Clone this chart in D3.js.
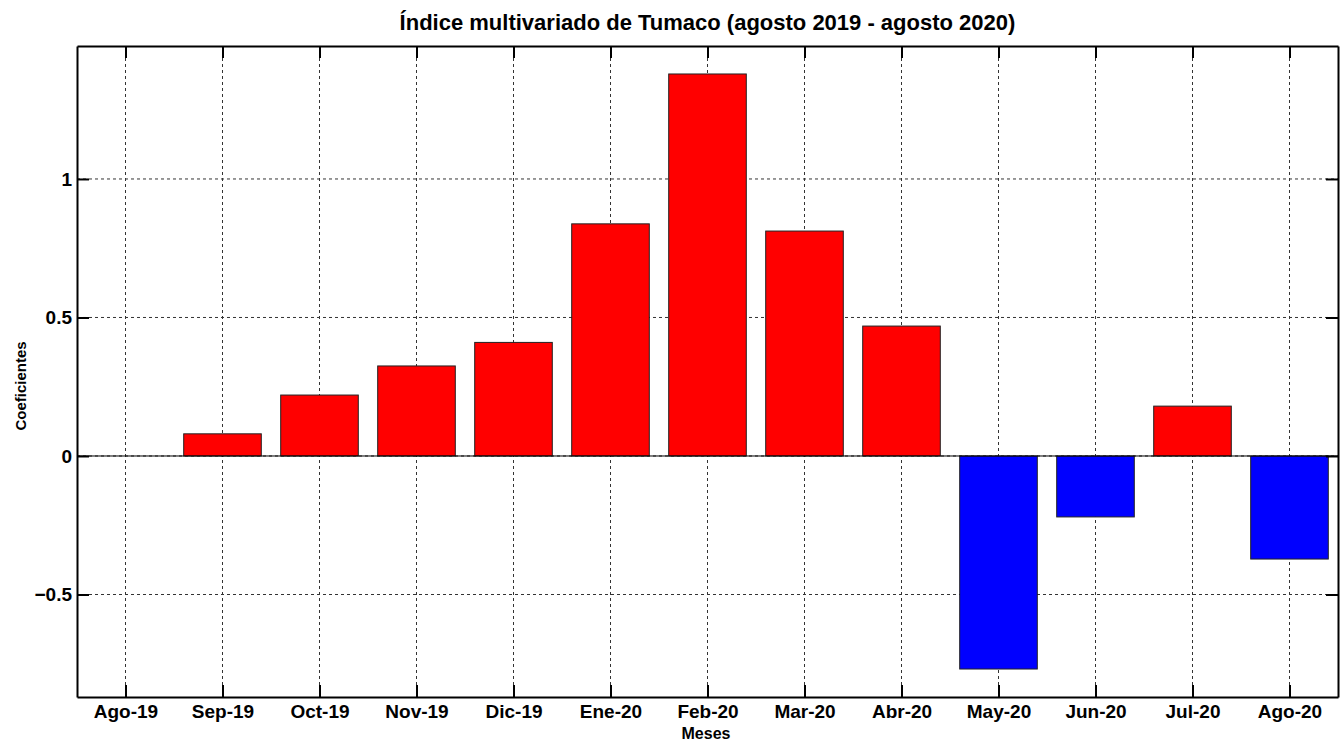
<!DOCTYPE html>
<html lang='es'>
	<head>
		<meta charset='utf-8'>
		<title>Indice multivariado de Tumaco</title>
		<script type='text/javascript' src='https://d3js.org/d3.v7.min.js'></script>
		<style type='text/css'>
			body { margin: 0; background: white; }
			text { font-family: 'Liberation Sans', Arial, sans-serif; font-weight: bold; fill: black; }
			.grid line { stroke: #333; stroke-dasharray: 3,3; stroke-width: 1; }
		</style>
	</head>
	<body>
		<script type='text/javascript'>
			// data
			var months = ['Ago-19', 'Sep-19', 'Oct-19', 'Nov-19', 'Dic-19', 'Ene-20', 'Feb-20',
				'Mar-20', 'Abr-20', 'May-20', 'Jun-20', 'Jul-20', 'Ago-20'];
			var coefs = [0, 0.08, 0.22, 0.325, 0.41, 0.838, 1.379, 0.812, 0.469, -0.769, -0.22, 0.18, -0.372];
			var yTicks = [-0.5, 0, 0.5, 1];

			var w = 1343;
			var h = 743;
			var padL = 77, padR = 1338, padT = 46, padB = 697;

			var svg = d3.select('body')
				.append('svg')
				.attr('width', w)
				.attr('height', h);

			var xScale = d3.scaleLinear()
				.domain([0.5, months.length + 0.5])
				.range([padL, padR]);

			var yScale = d3.scaleLinear()
				.domain([-0.87, 1.48])
				.range([padB, padT]);

			var barW = (xScale(1) - xScale(0)) * 0.8;

			// grid
			var grid = svg.append('g').attr('class', 'grid');
			grid.selectAll('.vx')
				.data(months)
				.enter()
				.append('line')
				.attr('x1', function(d, i) { return xScale(i + 1); })
				.attr('x2', function(d, i) { return xScale(i + 1); })
				.attr('y1', padT)
				.attr('y2', padB);
			grid.selectAll('.hy')
				.data(yTicks)
				.enter()
				.append('line')
				.attr('x1', padL)
				.attr('x2', padR)
				.attr('y1', function(d) { return yScale(d); })
				.attr('y2', function(d) { return yScale(d); });

			// bars
			svg.selectAll('rect.bar')
				.data(coefs)
				.enter()
				.append('rect')
				.attr('class', 'bar')
				.attr('x', function(d, i) { return xScale(i + 1) - barW / 2; })
				.attr('y', function(d) { return yScale(Math.max(0, d)); })
				.attr('width', barW)
				.attr('height', function(d) { return Math.abs(yScale(d) - yScale(0)); })
				.attr('fill', function(d) { return d >= 0 ? '#ff0000' : '#0000ff'; })
				.attr('stroke', '#222')
				.attr('stroke-width', 1);

			// baseline
			svg.append('line')
				.attr('x1', padL)
				.attr('x2', padR)
				.attr('y1', yScale(0))
				.attr('y2', yScale(0))
				.attr('stroke', 'black')
				.attr('stroke-width', 1);

			// axes with inward ticks
			var axisB = d3.axisBottom(xScale)
				.tickValues(d3.range(1, months.length + 1))
				.tickFormat(function(d) { return months[d - 1]; })
				.tickSizeInner(-12).tickSizeOuter(0).tickPadding(8);
			var axisT = d3.axisTop(xScale)
				.tickValues(d3.range(1, months.length + 1))
				.tickFormat('')
				.tickSizeInner(-12).tickSizeOuter(0);
			var axisL = d3.axisLeft(yScale)
				.tickValues(yTicks)
				.tickFormat(d3.format('~g'))
				.tickSizeInner(-12).tickSizeOuter(0).tickPadding(5);
			var axisR = d3.axisRight(yScale)
				.tickValues(yTicks)
				.tickFormat('')
				.tickSizeInner(-12).tickSizeOuter(0);

			[
				svg.append('g').attr('transform', 'translate(0,' + padB + ')').call(axisB),
				svg.append('g').attr('transform', 'translate(0,' + padT + ')').call(axisT),
				svg.append('g').attr('transform', 'translate(' + padL + ',0)').call(axisL),
				svg.append('g').attr('transform', 'translate(' + padR + ',0)').call(axisR)
			].forEach(function(g) {
				g.selectAll('.domain').attr('stroke', 'black').attr('stroke-width', 2);
				g.selectAll('.tick line').attr('stroke', 'black').attr('stroke-width', 2);
				g.selectAll('text').style('font-size', '19px');
			});

			// titles
			svg.append('text')
				.attr('x', (padL + padR) / 2)
				.attr('y', 30)
				.attr('text-anchor', 'middle')
				.style('font-size', '22px')
				.text('Índice multivariado de Tumaco (agosto 2019 - agosto 2020)');

			svg.append('text')
				.attr('x', 706)
				.attr('y', 739)
				.attr('text-anchor', 'middle')
				.style('font-size', '16px')
				.text('Meses');

			svg.append('text')
				.attr('transform', 'translate(26,386) rotate(-90)')
				.attr('text-anchor', 'middle')
				.style('font-size', '15px')
				.text('Coeficientes');
		</script>
	</body>
</html>
